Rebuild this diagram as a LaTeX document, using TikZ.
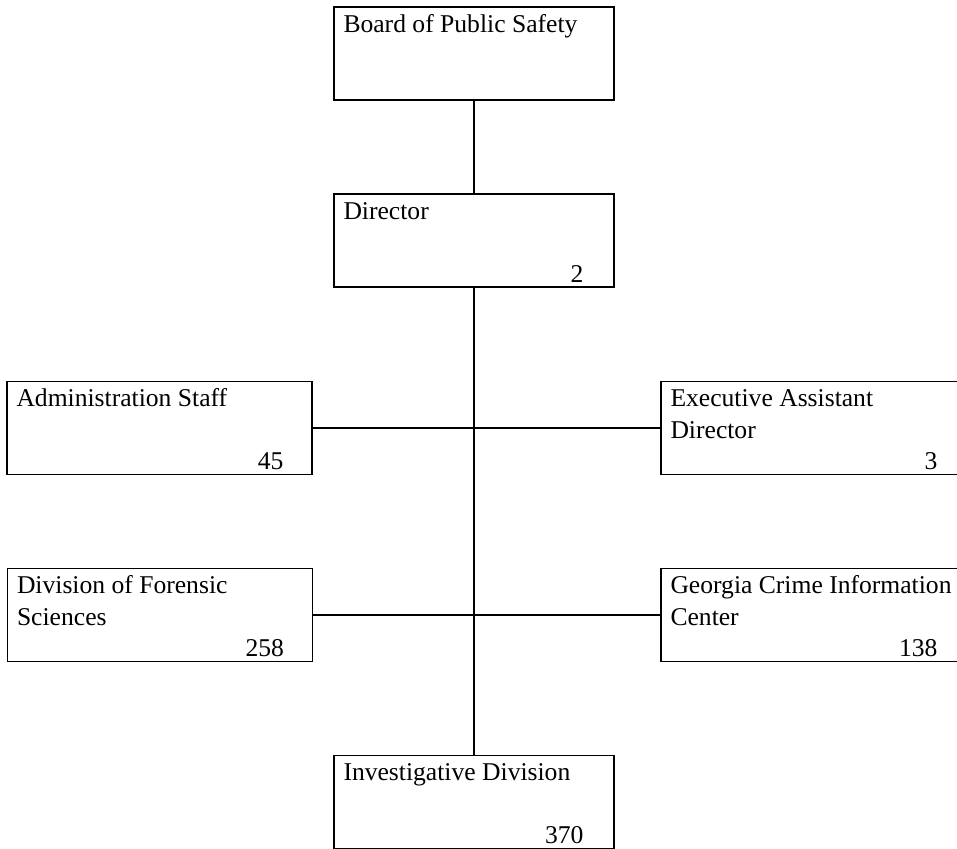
\documentclass[tikz,border=0pt]{standalone}
\usepackage{fontspec}
\setmainfont{Liberation Serif}
\usetikzlibrary{positioning,calc}
\tikzstyle{unitbox} = [draw=black, line width=1.4pt, rectangle, inner sep=0pt, minimum height=93pt]
\tikzstyle{unittitle} = [anchor=base west, inner sep=0pt, align=left, font=\fontsize{25.6}{31.5}\selectfont]
\tikzstyle{staffno} = [anchor=base east, inner sep=0pt, font=\fontsize{25.6}{31.5}\selectfont]
\tikzstyle{link} = [line width=1.8pt]

\begin{document}
\begin{tikzpicture}[x=1pt,y=-1pt]
\useasboundingbox (0,0) rectangle (957,848);
% boxes
\node (board) [unitbox, minimum width=280pt] at (474,53.5) {};
\node (dir) [unitbox, minimum width=280pt] at (474,240.5) {};
\node (admin) [unitbox, minimum width=305pt] at (159.5,428) {};
\node (exec) [unitbox, minimum width=305pt] at (813.5,428) {};
\node (dfs) [unitbox, minimum width=305pt] at (160,615) {};
\node (gcic) [unitbox, minimum width=305pt] at (813.5,615) {};
\node (inv) [unitbox, minimum width=280pt] at (474,802) {};
% names (base = last line)
\node (boardt) [unittitle] at ($(board.north west)+(10,26)$) {Board of Public Safety};
\node (dirt) [unittitle] at ($(dir.north west)+(10,26)$) {Director};
\node (admint) [unittitle] at ($(admin.north west)+(10,26)$) {Administration Staff};
\node (exect) [unittitle] at ($(exec.north west)+(10,57.5)$) {Executive Assistant\\Director};
\node (dfst) [unittitle] at ($(dfs.north west)+(10,57.5)$) {Division of Forensic\\Sciences};
\node (gcict) [unittitle] at ($(gcic.north west)+(10,57.5)$) {Georgia Crime Information\\Center};
\node (invt) [unittitle] at ($(inv.north west)+(10,26)$) {Investigative Division};
% head counts
\node (dirn) [staffno] at ($(dir.south east)+(-31,-5)$) {2};
\node (adminn) [staffno] at ($(admin.south east)+(-29,-6)$) {45};
\node (execn) [staffno] at ($(exec.south east)+(-29,-6)$) {3};
\node (dfsn) [staffno] at ($(dfs.south east)+(-29,-6)$) {258};
\node (gcicn) [staffno] at ($(gcic.south east)+(-29,-6)$) {138};
\node (invn) [staffno] at ($(inv.south east)+(-31,-6)$) {370};
% lines
\draw[link] (board.south)--(dir.north);
\draw[link] (dir.south)--(inv.north);
\draw[link] (admin.east)--(exec.west);
\draw[link] (dfs.east)--(gcic.west);
\end{tikzpicture}
\end{document}
